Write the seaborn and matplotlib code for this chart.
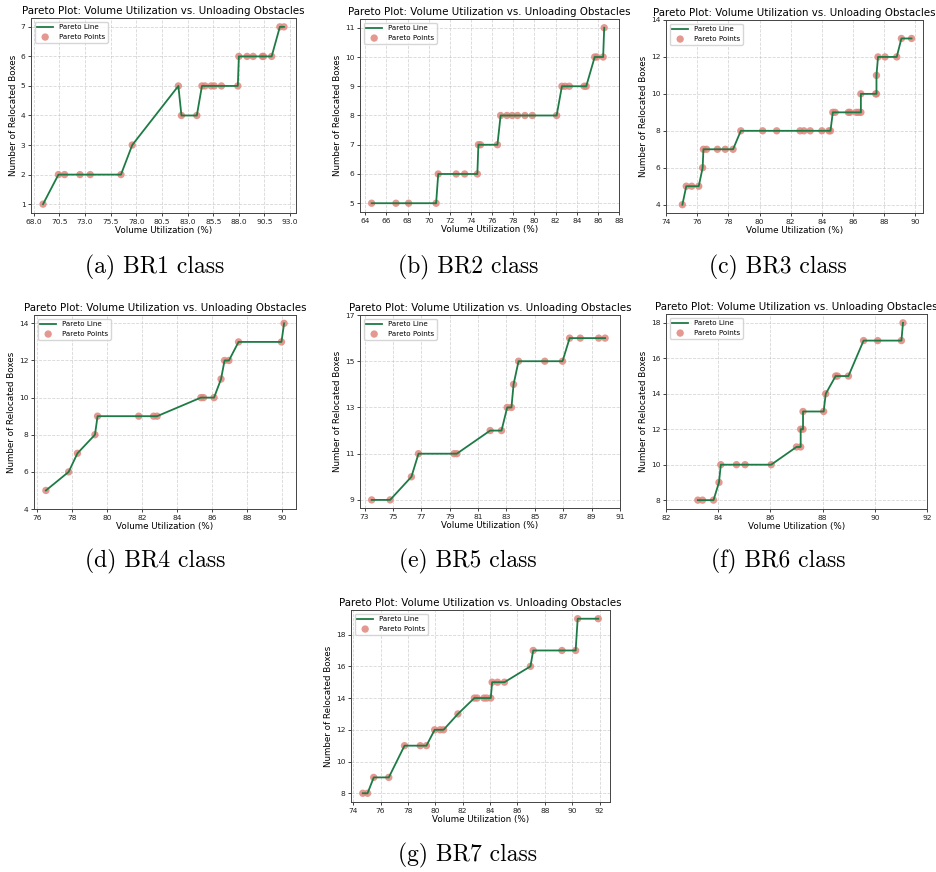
import numpy as np
import seaborn as sns
import matplotlib.pyplot as plt

br1_x = [68.9, 70.4, 71.0, 72.5, 73.5, 76.5, 77.6, 82.1, 82.4, 83.9, 84.4, 84.7, 85.3, 85.6, 86.3,
         87.9, 88.0, 88.8, 89.4, 90.3, 90.4, 91.2, 92.0, 92.4]
br1_y = [1, 2, 2, 2, 2, 2, 3, 5, 4, 4, 5, 5, 5, 5, 5,
         5, 6, 6, 6, 6, 6, 6, 7, 7]

br2_x = [64.6, 66.9, 68.1, 70.7, 70.9, 72.6, 73.4, 74.6, 74.7, 74.9, 76.5, 76.8, 77.4, 77.9, 78.4,
         79.1, 79.8, 82.1, 82.6, 82.9, 83.3, 84.7, 84.9, 85.7, 85.9, 86.5, 86.6]
br2_y = [5, 5, 5, 5, 6, 6, 6, 6, 7, 7, 7, 8, 8, 8, 8,
         8, 8, 8, 9, 9, 9, 9, 9, 10, 10, 10, 11]

br3_x = [75.05, 75.3, 75.65, 76.1, 76.35, 76.4, 76.6, 77.3, 77.8, 78.3, 78.8, 80.2, 81.1, 82.6,
         82.85, 83.25, 84.0, 84.45, 84.55, 84.7, 84.85, 85.7, 85.8, 86.2, 86.35, 86.5, 86.5,
         87.45, 87.5, 87.5, 87.6, 88.05, 88.8, 89.1, 89.75]
br3_y = [4, 5, 5, 5, 6, 7, 7, 7, 7, 7, 8, 8, 8, 8,
         8, 8, 8, 8, 8, 9, 9, 9, 9, 9, 9, 9, 10,
         10, 10, 11, 12, 12, 12, 13, 13]

br4_x = [76.5, 77.8, 78.3, 79.3, 79.45, 81.8, 82.65, 82.85, 85.35, 85.5, 86.1, 86.5, 86.7, 86.95,
         87.5, 89.95, 90.1]
br4_y = [5, 6, 7, 8, 9, 9, 9, 9, 10, 10, 10, 11, 12, 12,
         13, 13, 14]

br5_x = [73.5, 74.8, 76.3, 76.8, 79.3, 79.5, 81.85, 82.65, 83.05, 83.35, 83.5, 83.85, 85.7, 86.95,
         87.45, 88.2, 89.5, 89.95]
br5_y = [9, 9, 10, 11, 11, 11, 12, 12, 13, 13, 14, 15, 15, 15,
         16, 16, 16, 16]

br6_x = [83.22, 83.4, 83.82, 84.03, 84.1, 84.7, 85.03, 86.03, 87.0, 87.16, 87.16, 87.25, 87.25,
         88.04, 88.12, 88.5, 88.57, 88.99, 89.57, 90.11, 91.02, 91.08]
br6_y = [8, 8, 8, 9, 10, 10, 10, 10, 11, 11, 12, 12, 13,
         13, 14, 15, 15, 15, 17, 17, 17, 18]

br7_x = [74.7, 75.05, 75.5, 76.6, 77.75, 78.9, 79.35, 79.95, 80.35, 80.6, 81.65, 82.85, 83.05,
         83.55, 83.75, 84.05, 84.15, 84.55, 85.05, 86.95, 87.15, 89.25, 90.25, 90.4, 91.9]
br7_y = [8, 8, 9, 9, 11, 11, 11, 12, 12, 12, 13, 14, 14,
         14, 14, 14, 15, 15, 15, 16, 17, 17, 17, 19, 19]

xticks = [np.arange(68.0, 93.1, 2.5), list(range(64, 89, 2)), list(range(74, 91, 2)),
          list(range(76, 91, 2)), list(range(73, 92, 2)), list(range(82, 93, 2)),
          list(range(74, 93, 2))]
yticks = [list(range(1, 8)), list(range(5, 12)), list(range(4, 15, 2)),
          list(range(4, 15, 2)), list(range(9, 18, 2)), list(range(8, 19, 2)),
          list(range(8, 19, 2))]
captions = ["(a) BR1 class", "(b) BR2 class", "(c) BR3 class", "(d) BR4 class",
            "(e) BR5 class", "(f) BR6 class", "(g) BR7 class"]
series = [(br1_x, br1_y), (br2_x, br2_y), (br3_x, br3_y), (br4_x, br4_y),
          (br5_x, br5_y), (br6_x, br6_y), (br7_x, br7_y)]

# axes boxes in pixels: left, top, right, bottom
boxes = [(31, 18, 296, 213), (360, 19, 619, 212), (666, 20, 923, 213),
         (34, 315, 296, 509), (360, 315, 620, 508), (666, 314, 927, 509),
         (351, 610, 610, 802)]
cap_pos = [(155, 267), (468, 267), (778, 267), (155, 561), (468, 561), (778, 561), (468, 855)]

W, H = 936, 872
fig = plt.figure(figsize=(W / 100, H / 100), dpi=100)

for i, ((x, y), box) in enumerate(zip(series, boxes)):
    l, t, r, b = box
    ax = fig.add_axes([l / W, 1 - b / H, (r - l) / W, (b - t) / H])
    sns.lineplot(x=x, y=y, estimator=None, sort=True, color="#1e7b45", linewidth=1.3,
                 label="Pareto Line", ax=ax, zorder=3)
    sns.scatterplot(x=x, y=y, color="#e0867c", alpha=0.85, s=28, edgecolor="none",
                    label="Pareto Points", ax=ax, zorder=2)
    ax.set_xticks(xticks[i])
    ax.set_yticks(yticks[i])
    ax.tick_params(labelsize=5.4, length=2.5, width=0.6, pad=1.5, colors="#222222")
    ax.grid(True, linestyle="--", linewidth=0.6, alpha=0.5)
    ax.set_xlabel("Volume Utilization (%)", fontsize=6.3, labelpad=1)
    ax.set_ylabel("Number of Relocated Boxes", fontsize=6.3, labelpad=2)
    ax.set_title("Pareto Plot: Volume Utilization vs. Unloading Obstacles", fontsize=7.4, pad=3)
    for sp in ax.spines.values():
        sp.set_linewidth(0.7)
        sp.set_color("#444444")
    ax.legend(loc="upper left", fontsize=5.1, framealpha=0.8, borderpad=0.4,
              handlelength=2.2, labelspacing=0.5)
    cx, cy = cap_pos[i]
    fig.text(cx / W, 1 - cy / H, captions[i], family=["cmr10"], fontsize=17,
             ha="center", va="center")

fig.savefig("out.png", dpi=100, facecolor="white")
